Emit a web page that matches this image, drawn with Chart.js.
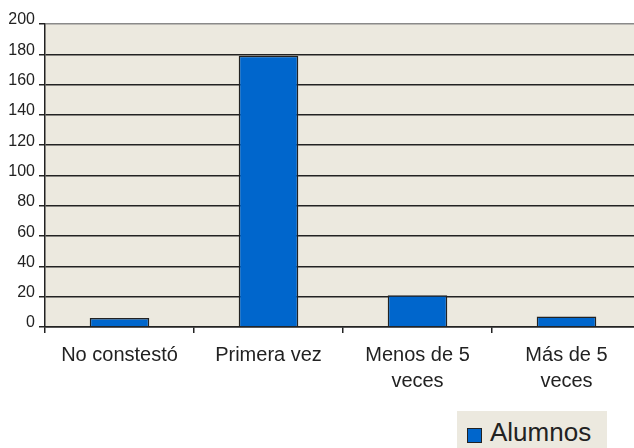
<!DOCTYPE html>
<html>
<head>
<meta charset="utf-8">
<script src="https://cdn.jsdelivr.net/npm/chart.js@4/dist/chart.umd.min.js"></script>
<style>
  html, body { margin: 0; padding: 0; background: #ffffff; overflow: hidden; }
  #wrap { position: relative; width: 634px; height: 448px; overflow: hidden; }
  #c { position: absolute; left: 0; top: 0; }
  #legend { position: absolute; left: 457px; top: 411px; width: 150px; height: 37px;
    background: #ece9df; font-family: "Liberation Sans", Arial, sans-serif; font-size: 26px; color: #222; }
  #legend .sw { position: absolute; left: 10px; top: 17px; width: 13px; height: 13px;
    border: 1.5px solid #222; }
  #legend .tx { position: absolute; left: 33px; top: 6px; line-height: 30px; }
</style>
</head>
<body>
<div id="wrap">
  <canvas id="c" width="641" height="448"></canvas>
  <div id="legend"></div>
</div>
<script>
const categories = [["No constestó"], ["Primera vez"], ["Menos de 5", "veces"], ["Más de 5", "veces"]];
const seriesName = "Alumnos";
const alumnos = [6, 179, 21, 7];
const yTicks = [0, 20, 40, 60, 80, 100, 120, 140, 160, 180, 200];

const FONT = '"Liberation Sans", Arial, sans-serif';
const BAR = '#0066cc';
const DARK = '#222222';
const PLOT_BG = '#ece9df';

const plotBg = {
  id: 'plotBg',
  beforeDraw(chart) {
    const a = chart.chartArea, ctx = chart.ctx;
    ctx.save();
    ctx.fillStyle = PLOT_BG;
    ctx.fillRect(a.left, a.top, a.right - a.left, a.bottom - a.top);
    ctx.restore();
  }
};

const chart = new Chart(document.getElementById('c'), {
  type: 'bar',
  data: {
    labels: categories,
    datasets: [{
      label: seriesName,
      data: alumnos,
      backgroundColor: BAR,
      borderColor: DARK,
      borderWidth: 1.5,
      barPercentage: 0.4,
      categoryPercentage: 1.0
    }]
  },
  options: {
    responsive: false,
    animation: false,
    layout: { padding: { top: 24, left: 0, right: 0, bottom: 0 } },
    plugins: { legend: { display: false }, tooltip: { enabled: false } },
    scales: {
      x: {
        offset: true,
        grid: { display: true, drawOnChartArea: false, drawTicks: true, tickLength: 6, color: DARK, lineWidth: 1.5, offset: true },
        border: { display: true, color: DARK, width: 1.5 },
        ticks: { color: DARK, font: { family: FONT, size: 20, lineHeight: 1.33 }, padding: 9, maxRotation: 0, autoSkip: false },
        afterFit(s) { s.height = 121; }
      },
      y: {
        min: 0, max: 200,
        afterBuildTicks(s) { s.ticks = yTicks.map(v => ({ value: v })); },
        grid: {
          color: ctx => (ctx.tick && ctx.tick.value === 200) ? '#8a8a8a' : DARK,
          tickColor: DARK,
          lineWidth: 1.5, tickLength: 6
        },
        border: { display: true, color: DARK, width: 1.5 },
        ticks: { color: DARK, font: { family: FONT, size: 16 }, padding: 4, labelOffset: -4 },
        afterFit(s) { s.width = 45; }
      }
    }
  },
  plugins: [plotBg]
});

// Legend built from the dataset
const lg = document.getElementById('legend');
const ds = chart.data.datasets[0];
lg.innerHTML = '<div class="sw" style="background:' + ds.backgroundColor + '"></div><div class="tx">' + ds.label + '</div>';
</script>
</body>
</html>
